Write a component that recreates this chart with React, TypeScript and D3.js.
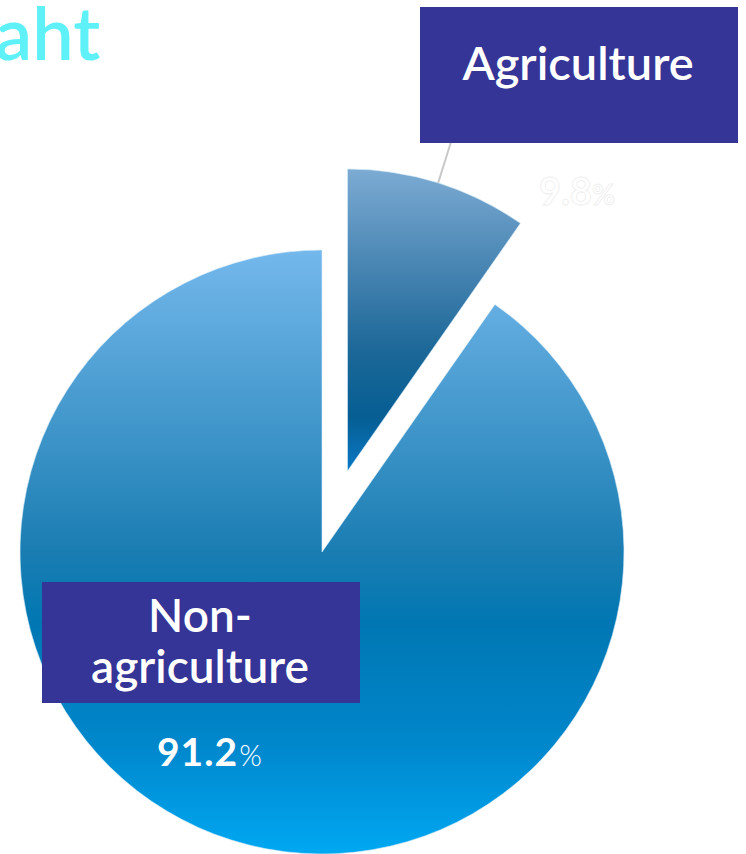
import React from "react";
import * as d3 from "d3";

const categories = ["Agriculture", "Non-agriculture"];
const values = [9.8, 91.2];
const valueLabels = ["9.8", "91.2"];
const titleFragment = "aht";

const W = 746;
const H = 854;
const cx = 322;
const cy = 552;
const R = 302;
const explode = 85;

export default function App() {
  const pie = d3.pie<number>().sort(null).startAngle(0).endAngle(2 * Math.PI);
  const arcs = pie(values);
  const arcGen = d3.arc<d3.PieArcDatum<number>>().innerRadius(0).outerRadius(R);

  const agri = arcs[0];
  const main = arcs[1];
  const mid = (agri.startAngle + agri.endAngle) / 2;
  const ox = explode * Math.sin(mid);
  const oy = -explode * Math.cos(mid);
  const lineStart = [cx + ox + R * Math.sin(mid), cy + oy - R * Math.cos(mid)];
  const lineEnd = [cx + ox + (R + 42) * Math.sin(mid), cy + oy - (R + 42) * Math.cos(mid)];

  const font = "Lato, 'Open Sans', sans-serif";

  return (
    <svg width={W} height={H} style={{ position: "absolute", left: 0, top: 0, display: "block" }}>
      <defs>
        <linearGradient id="gMain" gradientUnits="userSpaceOnUse" x1="0" y1={-R} x2="0" y2={R}>
          <stop offset="0" stopColor="#74b8ec" />
          <stop offset="0.3" stopColor="#3f95c9" />
          <stop offset="0.5" stopColor="#1a7db2" />
          <stop offset="0.62" stopColor="#0077b3" />
          <stop offset="0.82" stopColor="#0087cc" />
          <stop offset="1" stopColor="#00a8f2" />
        </linearGradient>
        <linearGradient id="gAgri" gradientUnits="userSpaceOnUse" x1="0" y1={-R} x2="0" y2={0}>
          <stop offset="0" stopColor="#7cabd3" />
          <stop offset="0.35" stopColor="#4482b0" />
          <stop offset="0.6" stopColor="#1c6898" />
          <stop offset="0.82" stopColor="#065e93" />
          <stop offset="1" stopColor="#0a78c4" />
        </linearGradient>
      </defs>

      <text x={-5} y={60} fontFamily={font} fontSize={74} fontWeight="600" fill="#5ef1f8">{titleFragment}</text>

      <line x1={lineStart[0]} y1={lineStart[1]} x2={lineEnd[0]} y2={lineEnd[1]} stroke="#c8c8c8" strokeWidth={2} />

      <path d={arcGen(main) || ""} transform={`translate(${cx},${cy})`} fill="url(#gMain)" stroke="#d8ecf8" strokeWidth={0.6} />
      <path d={arcGen(agri) || ""} transform={`translate(${cx + ox},${cy + oy})`} fill="url(#gAgri)" stroke="#d8ecf8" strokeWidth={0.6} />

      <rect x={420} y={7} width={318} height={136} fill="#353497" />
      <text x={578} y={80} textAnchor="middle" fontFamily={font} fontSize={47} fontWeight="600" fill="#ffffff">{categories[0]}</text>

      <text x={577} y={205} textAnchor="middle" fontFamily={font} fontWeight="bold" fill="#ffffff" stroke="#eeeeee" strokeWidth={0.8}>
        <tspan fontSize={38}>{valueLabels[0]}</tspan>
        <tspan fontSize={28}>%</tspan>
      </text>

      <rect x={42} y={582} width={318} height={121} fill="#353497" />
      <text x={200} y={632} textAnchor="middle" fontFamily={font} fontSize={46} fontWeight="600" fill="#ffffff">Non-</text>
      <text x={200} y={683} textAnchor="middle" fontFamily={font} fontSize={46} fontWeight="600" fill="#ffffff">agriculture</text>

      <text x={157} y={766} fontFamily={font} fill="#ffffff">
        <tspan fontSize={39} fontWeight="bold" letterSpacing={1}>{valueLabels[1]}</tspan>
        <tspan fontSize={29} fontWeight="300" dx={1}>%</tspan>
      </text>
    </svg>
  );
}
